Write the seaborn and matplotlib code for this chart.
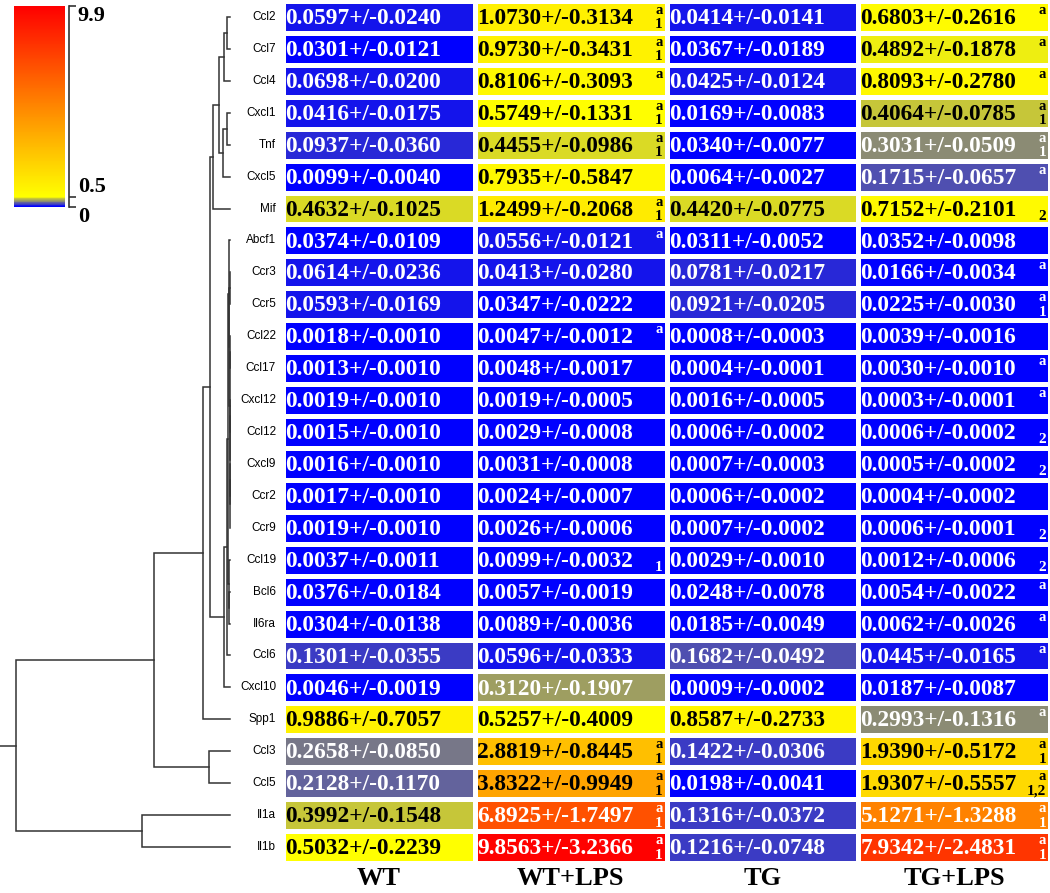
import numpy as np
import pandas as pd
import seaborn as sns
import matplotlib.pyplot as plt
from matplotlib.colors import LinearSegmentedColormap
from matplotlib.transforms import blended_transform_factory

# Genes, top to bottom, in dendrogram order
genes = ["Ccl2", "Ccl7", "Ccl4", "Cxcl1", "Tnf", "Cxcl5", "Mif", "Abcf1", "Ccr3",
         "Ccr5", "Ccl22", "Ccl17", "Cxcl12", "Ccl12", "Cxcl9", "Ccr2", "Ccr9",
         "Ccl19", "Bcl6", "Il6ra", "Ccl6", "Cxcl10", "Spp1", "Ccl3", "Ccl5",
         "Il1a", "Il1b"]
groups = ["WT", "WT+LPS", "TG", "TG+LPS"]

wt_mean = [0.0597, 0.0301, 0.0698, 0.0416, 0.0937, 0.0099, 0.4632, 0.0374, 0.0614,
           0.0593, 0.0018, 0.0013, 0.0019, 0.0015, 0.0016, 0.0017, 0.0019, 0.0037,
           0.0376, 0.0304, 0.1301, 0.0046, 0.9886, 0.2658, 0.2128, 0.3992, 0.5032]
wt_sd = [0.0240, 0.0121, 0.0200, 0.0175, 0.0360, 0.0040, 0.1025, 0.0109, 0.0236,
         0.0169, 0.0010, 0.0010, 0.0010, 0.0010, 0.0010, 0.0010, 0.0010, 0.0011,
         0.0184, 0.0138, 0.0355, 0.0019, 0.7057, 0.0850, 0.1170, 0.1548, 0.2239]
wtlps_mean = [1.0730, 0.9730, 0.8106, 0.5749, 0.4455, 0.7935, 1.2499, 0.0556, 0.0413,
              0.0347, 0.0047, 0.0048, 0.0019, 0.0029, 0.0031, 0.0024, 0.0026, 0.0099,
              0.0057, 0.0089, 0.0596, 0.3120, 0.5257, 2.8819, 3.8322, 6.8925, 9.8563]
wtlps_sd = [0.3134, 0.3431, 0.3093, 0.1331, 0.0986, 0.5847, 0.2068, 0.0121, 0.0280,
            0.0222, 0.0012, 0.0017, 0.0005, 0.0008, 0.0008, 0.0007, 0.0006, 0.0032,
            0.0019, 0.0036, 0.0333, 0.1907, 0.4009, 0.8445, 0.9949, 1.7497, 3.2366]
tg_mean = [0.0414, 0.0367, 0.0425, 0.0169, 0.0340, 0.0064, 0.4420, 0.0311, 0.0781,
           0.0921, 0.0008, 0.0004, 0.0016, 0.0006, 0.0007, 0.0006, 0.0007, 0.0029,
           0.0248, 0.0185, 0.1682, 0.0009, 0.8587, 0.1422, 0.0198, 0.1316, 0.1216]
tg_sd = [0.0141, 0.0189, 0.0124, 0.0083, 0.0077, 0.0027, 0.0775, 0.0052, 0.0217,
         0.0205, 0.0003, 0.0001, 0.0005, 0.0002, 0.0003, 0.0002, 0.0002, 0.0010,
         0.0078, 0.0049, 0.0492, 0.0002, 0.2733, 0.0306, 0.0041, 0.0372, 0.0748]
tglps_mean = [0.6803, 0.4892, 0.8093, 0.4064, 0.3031, 0.1715, 0.7152, 0.0352, 0.0166,
              0.0225, 0.0039, 0.0030, 0.0003, 0.0006, 0.0005, 0.0004, 0.0006, 0.0012,
              0.0054, 0.0062, 0.0445, 0.0187, 0.2993, 1.9390, 1.9307, 5.1271, 7.9342]
tglps_sd = [0.2616, 0.1878, 0.2780, 0.0785, 0.0509, 0.0657, 0.2101, 0.0098, 0.0034,
            0.0030, 0.0016, 0.0010, 0.0001, 0.0002, 0.0002, 0.0002, 0.0001, 0.0006,
            0.0022, 0.0026, 0.0165, 0.0087, 0.1316, 0.5172, 0.5557, 1.3288, 2.4831]

# significance marks ('a' upper, numbers lower) for the LPS groups
wtlps_upper = ["Ccl2", "Ccl7", "Ccl4", "Cxcl1", "Tnf", "Mif", "Abcf1", "Ccl22",
               "Ccl3", "Ccl5", "Il1a", "Il1b"]
wtlps_lower = {"Ccl2": "1", "Ccl7": "1", "Cxcl1": "1", "Tnf": "1", "Mif": "1",
               "Ccl19": "1", "Ccl3": "1", "Ccl5": "1", "Il1a": "1", "Il1b": "1"}
tglps_upper = ["Ccl2", "Ccl7", "Ccl4", "Cxcl1", "Tnf", "Cxcl5", "Ccr3", "Ccr5",
               "Ccl17", "Cxcl12", "Bcl6", "Il6ra", "Ccl6", "Spp1", "Ccl3", "Ccl5",
               "Il1a", "Il1b"]
tglps_lower = {"Cxcl1": "1", "Tnf": "1", "Mif": "2", "Ccr5": "1", "Ccl12": "2",
               "Cxcl9": "2", "Ccr9": "2", "Ccl19": "2", "Ccl3": "1", "Ccl5": "1,2",
               "Il1a": "1", "Il1b": "1"}

# colorbar ticks
cbar_ticks = [0, 0.5, 9.9]
cbar_labels = ["0", "0.5", "9.9"]

# dendrogram merges: (child, child, relative height); merge k is named "n<k>"
merges = [
    ("Ccl2", "Ccl7", 0.014), ("n0", "Ccl4", 0.028), ("Cxcl1", "Tnf", 0.014),
    ("n2", "Cxcl5", 0.033), ("n1", "n3", 0.051), ("n4", "Mif", 0.079),
    ("Ccr3", "Ccr5", 0.001), ("Ccl22", "Ccl17", 0.001), ("Cxcl12", "Ccl12", 0.0005),
    ("Cxcl9", "Ccr2", 0.0004), ("n9", "Ccr9", 0.0008), ("n8", "n10", 0.0012),
    ("n7", "n11", 0.002), ("n6", "n12", 0.003), ("Abcf1", "n13", 0.005),
    ("Bcl6", "Il6ra", 0.003), ("Ccl19", "n15", 0.005), ("n14", "n16", 0.008),
    ("n17", "Ccl6", 0.014), ("n18", "Cxcl10", 0.028), ("n5", "n19", 0.093),
    ("n20", "Spp1", 0.126), ("Ccl3", "Ccl5", 0.098), ("n21", "n22", 0.355),
    ("Il1a", "Il1b", 0.41), ("n23", "n24", 1.0),
]

means = pd.DataFrame(dict(zip(groups, [wt_mean, wtlps_mean, tg_mean, tglps_mean])), index=genes)
sds = pd.DataFrame(dict(zip(groups, [wt_sd, wtlps_sd, tg_sd, tglps_sd])), index=genes)

vmax = 9.9
cmap = LinearSegmentedColormap.from_list(
    "expr", [(0, "#0000ff"), (0.5 / vmax, "#ffff00"), (1, "#ff0000")])

W, H = 1050, 893
fig = plt.figure(figsize=(W / 100, H / 100), dpi=100)
fig.patch.set_facecolor("white")

hm_top, hm_bot = 1, 863
ax = fig.add_axes([283 / W, 1 - hm_bot / H, 767 / W, (hm_bot - hm_top) / H])
cax = fig.add_axes([14 / W, 1 - 207 / H, 51 / W, 201 / H])
dax = fig.add_axes([0, 1 - hm_bot / H, 232 / W, (hm_bot - hm_top) / H])

sns.heatmap(means, ax=ax, cmap=cmap, vmin=0, vmax=vmax, cbar_ax=cax,
            linewidths=2.4, linecolor="white", xticklabels=True, yticklabels=True)

serif_bold = dict(family="Liberation Serif", weight="bold")


def text_color(v):
    return "black" if 0.35 <= v < 4.5 else "white"


# cell texts
for i, g in enumerate(genes):
    for j, grp in enumerate(groups):
        v = means.loc[g, grp]
        ax.text(j + 0.012, i + 0.55, f"{v:.4f}+/-{sds.loc[g, grp]:.4f}",
                ha="left", va="center", fontsize=16.8, color=text_color(v),
                **serif_bold)

marks = [(1, wtlps_upper, wtlps_lower), (3, tglps_upper, tglps_lower)]
for j, upper, lower in marks:
    for g in upper:
        i = genes.index(g)
        v = means.loc[g, groups[j]]
        ax.text(j + 0.98, i + 0.3, "a", ha="right", va="center", fontsize=10.5,
                color=text_color(v), **serif_bold)
    for g, lab in lower.items():
        i = genes.index(g)
        v = means.loc[g, groups[j]]
        ax.text(j + 0.98, i + 0.75, lab, ha="right", va="center", fontsize=11,
                color=text_color(v), **serif_bold)

ax.set_xlabel("")
ax.set_ylabel("")
ax.tick_params(axis="both", length=0)
ax.tick_params(axis="x", pad=3)
ax.tick_params(axis="y", pad=5)
ax.set_xticklabels(groups, rotation=0, fontsize=19, **serif_bold)
for t in ax.get_yticklabels():
    t.set_fontfamily("Liberation Sans")
    t.set_fontsize(8.5)
    t.set_rotation(0)

# colorbar
cbar = ax.collections[0].colorbar
cbar.outline.set_visible(False)
cbar.set_ticks(cbar_ticks)
cbar.set_ticklabels([])
cax.tick_params(axis="y", length=5, width=1.2, color="#333333")
cax.spines["right"].set_visible(True)
cax.spines["right"].set_position(("outward", 3))
cax.spines["right"].set_color("#333333")
cax.spines["right"].set_linewidth(1.2)
cb_tr = blended_transform_factory(cax.transAxes, cax.transData)
cb_va = ["top", "bottom", "top"]
for val, lab, va in zip(cbar_ticks, cbar_labels, cb_va):
    cax.text(1.25, val, lab, transform=cb_tr, ha="left", va=va, fontsize=16,
             **serif_bold)

# dendrogram
pos = {g: (0.0, i + 0.5) for i, g in enumerate(genes)}
for k, (a, b, h) in enumerate(merges):
    ha_, ya = pos[a]
    hb, yb = pos[b]
    dax.plot([ha_, h, h, hb], [ya, ya, yb, yb], color="#333333", lw=1.1,
             solid_joinstyle="miter")
    pos[f"n{k}"] = (h, (ya + yb) / 2)
root_h, root_y = pos[f"n{len(merges) - 1}"]
dax.set_xlim(230 / 214, -2 / 214)
dax.set_ylim(len(genes), 0)
dax.plot([root_h, 230 / 214], [root_y, root_y], color="#333333", lw=1.1)
dax.axis("off")

plt.savefig("out.png", dpi=100, facecolor="white")
